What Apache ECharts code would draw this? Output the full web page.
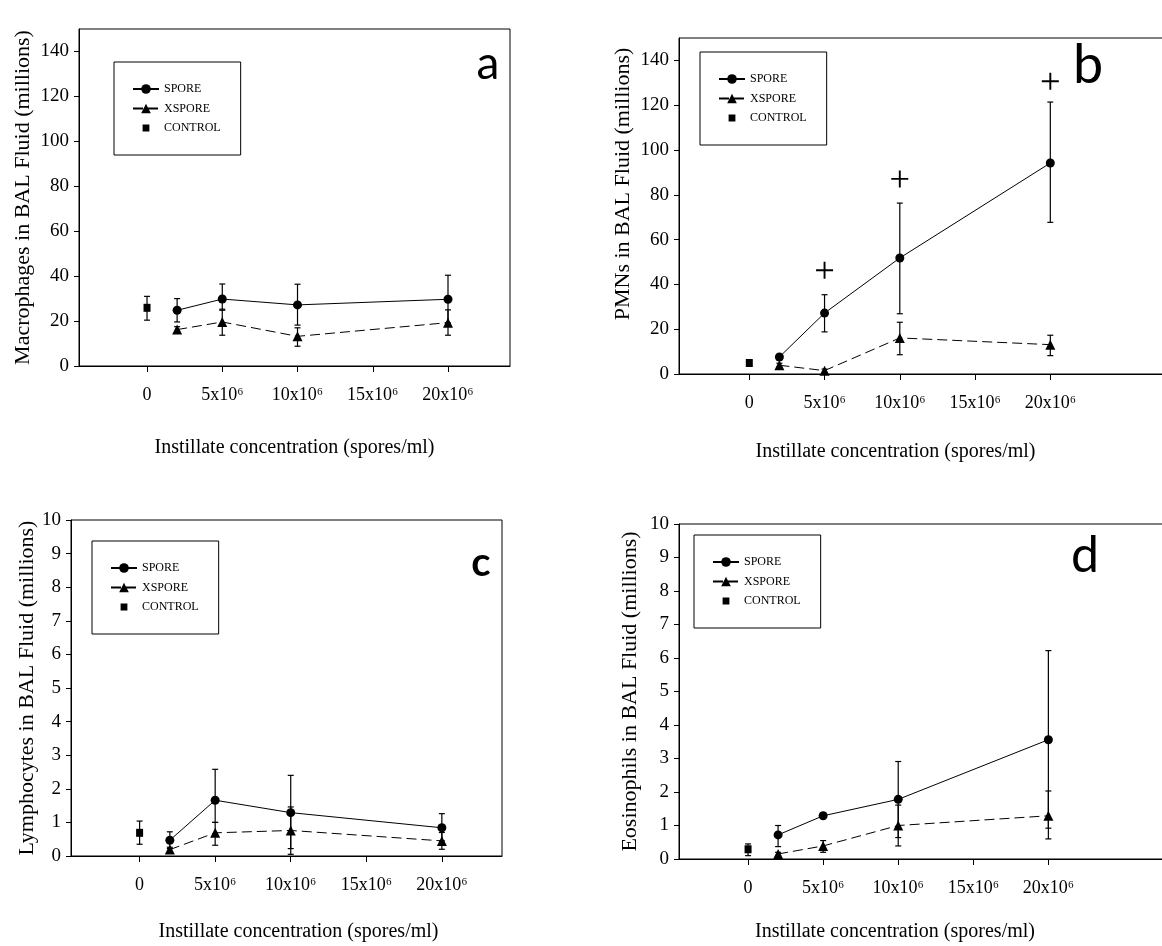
<!DOCTYPE html>
<html>
<head>
<meta charset="utf-8">
<title>BAL fluid cell counts</title>
<script src="https://cdn.jsdelivr.net/npm/echarts@6.0.0/dist/echarts.min.js"></script>
<style>
  html, body { margin: 0; padding: 0; background: #fff; }
  #chart { width: 1162px; height: 946px; }
</style>
</head>
<body>
<div id="chart"></div>
<script>
// instillate doses, in 10^6 spores/ml
const doses = [2, 5, 10, 20]
const controlDose = [0]
const xTickValues = [0, 5, 10, 15, 20]
const xTickLabels = ['0', '5x10⁶', '10x10⁶', '15x10⁶', '20x10⁶']
const yTicksBig = [0, 20, 40, 60, 80, 100, 120, 140]
const yTicksSmall = [0, 1, 2, 3, 4, 5, 6, 7, 8, 9, 10]
const seriesNames = ['SPORE', 'XSPORE', 'CONTROL']
const panelLetters = ['a', 'b', 'c', 'd']
const yTitles = [
  'Macrophages in BAL Fluid (millions)',
  'PMNs in BAL Fluid (millions)',
  'Lymphocytes in BAL Fluid (millions)',
  'Eosinophils in BAL Fluid (millions)'
]
const xTitle = 'Instillate concentration (spores/ml)'

// a - macrophages
const macSpore = [24.8, 29.8, 27.2, 29.7]
const macSporeLo = [19.6, 24.8, 18.2, 19.2]
const macSporeHi = [30.0, 36.5, 36.4, 40.4]
const macXspore = [16.2, 19.6, 13.2, 19.3]
const macXsporeLo = [15.0, 13.7, 8.8, 13.7]
const macXsporeHi = [17.5, 25.3, 17.0, 25.0]
const macControl = [25.9]
const macControlLo = [20.4]
const macControlHi = [31.0]

// b - PMNs
const pmnSpore = [7.6, 27.2, 51.8, 94.2]
const pmnSporeLo = [6.5, 18.8, 26.9, 67.7]
const pmnSporeHi = [8.7, 35.4, 76.3, 121.4]
const pmnXspore = [3.9, 1.5, 16.1, 13.1]
const pmnXsporeLo = [3.0, 0.8, 8.6, 8.2]
const pmnXsporeHi = [4.8, 2.2, 23.1, 17.3]
const pmnControl = [4.9]
const pmnControlLo = [4.0]
const pmnControlHi = [5.8]
// "+" significance marks
const pmnSigDoses = [5, 10, 20]
const pmnSigY = [46.3, 87.1, 130.7]

// c - lymphocytes
const lymSpore = [0.47, 1.66, 1.29, 0.84]
const lymSporeLo = [0.22, 1.0, 0.22, 0.45]
const lymSporeHi = [0.72, 2.58, 2.4, 1.26]
const lymXspore = [0.19, 0.69, 0.76, 0.45]
const lymXsporeLo = [0.12, 0.32, 0.05, 0.2]
const lymXsporeHi = [0.26, 1.0, 1.46, 0.7]
const lymControl = [0.69]
const lymControlLo = [0.35]
const lymControlHi = [1.04]

// d - eosinophils
const eosSpore = [0.72, 1.29, 1.78, 3.56]
const eosSporeLo = [0.37, 1.24, 0.64, 0.92]
const eosSporeHi = [1.0, 1.36, 2.91, 6.22]
const eosXspore = [0.15, 0.39, 1.0, 1.29]
const eosXsporeLo = [0.1, 0.2, 0.39, 0.6]
const eosXsporeHi = [0.2, 0.55, 1.61, 2.03]
const eosControl = [0.29]
const eosControlLo = [0.1]
const eosControlHi = [0.45]

const panelData = [
  { spore: macSpore, sporeLo: macSporeLo, sporeHi: macSporeHi, xspore: macXspore, xsporeLo: macXsporeLo, xsporeHi: macXsporeHi, control: macControl, controlLo: macControlLo, controlHi: macControlHi, yMax: 150, yTicks: yTicksBig },
  { spore: pmnSpore, sporeLo: pmnSporeLo, sporeHi: pmnSporeHi, xspore: pmnXspore, xsporeLo: pmnXsporeLo, xsporeHi: pmnXsporeHi, control: pmnControl, controlLo: pmnControlLo, controlHi: pmnControlHi, yMax: 150, yTicks: yTicksBig },
  { spore: lymSpore, sporeLo: lymSporeLo, sporeHi: lymSporeHi, xspore: lymXspore, xsporeLo: lymXsporeLo, xsporeHi: lymXsporeHi, control: lymControl, controlLo: lymControlLo, controlHi: lymControlHi, yMax: 10, yTicks: yTicksSmall },
  { spore: eosSpore, sporeLo: eosSporeLo, sporeHi: eosSporeHi, xspore: eosXspore, xsporeLo: eosXsporeLo, xsporeHi: eosXsporeHi, control: eosControl, controlLo: eosControlLo, controlHi: eosControlHi, yMax: 10, yTicks: yTicksSmall }
]

// layout of the four panels (pixels)
const layout = [
  { left: 79, top: 29, width: 431, height: 337, xMin: -4.52, xMax: 24.12, legendLeft: 114, legendTop: 62, yGap: 45, yPad: [0, 0, 0, 0], xGap: 72, xPad: [0, 0, 0, 0], letter: [488, 64, 46, 'normal'] },
  { left: 679, top: 38, width: 500, height: 336, xMin: -4.67, xMax: 28.55, legendLeft: 700, legendTop: 52, yGap: 45, yPad: [0, 0, 0, 44], xGap: 68, xPad: [0, 67, 0, 0], letter: [1088, 66, 54, 'normal'] },
  { left: 71, top: 520, width: 431, height: 336, xMin: -4.54, xMax: 23.98, legendLeft: 92, legendTop: 541, yGap: 32, yPad: [0, 0, 0, 0], xGap: 66, xPad: [0, 0, 0, 24], letter: [481, 563, 40, 'bold'] },
  { left: 679, top: 524, width: 500, height: 335, xMin: -4.6, xMax: 28.7, legendLeft: 694, legendTop: 535, yGap: 38, yPad: [0, 0, 0, 0], xGap: 63, xPad: [0, 68, 0, 0], letter: [1085, 556, 50, 'normal'] }
]

const serif = "'Liberation Serif', 'Times New Roman', 'DejaVu Serif', serif"
// small filled square inside a 12x12 box (corner specks keep the box size)
const controlIcon = 'path://M0,0h0.1v0.1h-0.1z M11.9,11.9h0.1v0.1h-0.1z M2.6,2.6h6.8v6.8h-6.8z'

const chartInstance = echarts.init(document.getElementById('chart'))

const grid = []
const xAxis = []
const yAxis = []
const legend = []
const series = []
const graphic = []

const errorBars = (xs, lo, hi) => xs.map((x, i) => [x, lo[i], hi[i]])

const renderErrorBar = (params, api) => {
  const x = api.value(0)
  const lo = api.coord([x, api.value(1)])
  const hi = api.coord([x, api.value(2)])
  const cap = 3
  const style = { stroke: '#000', lineWidth: 1.2 }
  return {
    type: 'group',
    children: [
      { type: 'line', shape: { x1: lo[0], y1: lo[1], x2: hi[0], y2: hi[1] }, style },
      { type: 'line', shape: { x1: lo[0] - cap, y1: lo[1], x2: lo[0] + cap, y2: lo[1] }, style },
      { type: 'line', shape: { x1: hi[0] - cap, y1: hi[1], x2: hi[0] + cap, y2: hi[1] }, style }
    ]
  }
}

panelData.forEach((d, i) => {
  const lay = layout[i]
  grid.push({
    left: lay.left, top: lay.top, width: lay.width, height: lay.height,
    show: true, borderColor: '#000', borderWidth: 1, backgroundColor: 'transparent',
    outerBoundsMode: 'none', containLabel: false
  })
  xAxis.push({
    type: 'value', gridIndex: i, min: lay.xMin, max: lay.xMax,
    name: xTitle, nameLocation: 'middle', nameGap: lay.xGap,
    nameTextStyle: { fontFamily: serif, fontSize: 20, color: '#000', padding: lay.xPad },
    axisLine: { show: true, onZero: false, lineStyle: { color: '#000', width: 1 } },
    axisTick: { show: true, inside: false, length: 6, customValues: xTickValues, lineStyle: { color: '#000' } },
    axisLabel: {
      margin: 20, fontFamily: serif, fontSize: 18, color: '#000',
      customValues: xTickValues,
      formatter: (v) => xTickLabels[xTickValues.indexOf(v)]
    },
    splitLine: { show: false }
  })
  yAxis.push({
    type: 'value', gridIndex: i, min: 0, max: d.yMax,
    name: yTitles[i], nameLocation: 'middle', nameGap: lay.yGap, nameRotate: 90,
    nameTextStyle: { fontFamily: serif, fontSize: 22, color: '#000', padding: lay.yPad },
    axisLine: { show: true, onZero: false, lineStyle: { color: '#000', width: 1 } },
    axisTick: { show: true, inside: false, length: 5, customValues: d.yTicks, lineStyle: { color: '#000' } },
    axisLabel: { margin: 10, fontFamily: serif, fontSize: 19, color: '#000', customValues: d.yTicks },
    splitLine: { show: false }
  })
  legend.push({
    orient: 'vertical', left: lay.legendLeft, top: lay.legendTop,
    data: [
      { name: seriesNames[0] },
      { name: seriesNames[1] },
      { name: seriesNames[2], icon: controlIcon }
    ],
    symbolKeepAspect: true,
    borderColor: '#000', borderWidth: 1, borderRadius: 0,
    padding: [21, 20, 21, 18],
    itemWidth: 26, itemHeight: 12, itemGap: 7.5,
    selectedMode: false,
    itemStyle: { opacity: 1 },
    textStyle: { fontFamily: serif, fontSize: 12, color: '#000' }
  })
  series.push({
    name: 'SPORE', type: 'line', xAxisIndex: i, yAxisIndex: i,
    data: doses.map((x, k) => [x, d.spore[k]]),
    symbol: 'circle', symbolSize: 9,
    itemStyle: { color: '#000' },
    lineStyle: { color: '#000', width: 1 },
    z: 3
  })
  series.push({
    name: 'XSPORE', type: 'line', xAxisIndex: i, yAxisIndex: i,
    data: doses.map((x, k) => [x, d.xspore[k]]),
    symbol: 'triangle', symbolSize: 10,
    itemStyle: { color: '#000' },
    lineStyle: { color: '#000', width: 1, type: [10, 5] },
    z: 3
  })
  series.push({
    name: 'CONTROL', type: 'scatter', xAxisIndex: i, yAxisIndex: i,
    data: controlDose.map((x, k) => [x, d.control[k]]),
    symbol: 'rect', symbolSize: [7, 8],
    itemStyle: { color: '#000', opacity: 1 },
    z: 3
  })
  series.push({
    name: 'err' + i, type: 'custom', xAxisIndex: i, yAxisIndex: i,
    renderItem: renderErrorBar,
    encode: { x: 0, y: [1, 2] },
    data: errorBars(doses, d.sporeLo, d.sporeHi)
      .concat(errorBars(doses, d.xsporeLo, d.xsporeHi))
      .concat(errorBars(controlDose, d.controlLo, d.controlHi)),
    z: 2
  })
  graphic.push({
    type: 'text', x: lay.letter[0], y: lay.letter[1],
    style: {
      text: panelLetters[i], fill: '#000',
      font: lay.letter[3] + ' ' + lay.letter[2] + "px Lato, 'Open Sans', sans-serif",
      textAlign: 'center', textVerticalAlign: 'middle'
    }
  })
})

series.push({
  name: 'significance', type: 'scatter', xAxisIndex: 1, yAxisIndex: 1,
  data: pmnSigDoses.map((x, k) => [x, pmnSigY[k]]),
  symbol: 'path://M7.1,0h1.8v16h-1.8z M0,7.1h16v1.8h-16z', symbolSize: 17,
  itemStyle: { color: '#000', opacity: 1 },
  z: 4
})

chartInstance.setOption({
  animation: false,
  backgroundColor: '#fff',
  grid,
  xAxis,
  yAxis,
  legend,
  series,
  graphic
})
</script>
</body>
</html>
